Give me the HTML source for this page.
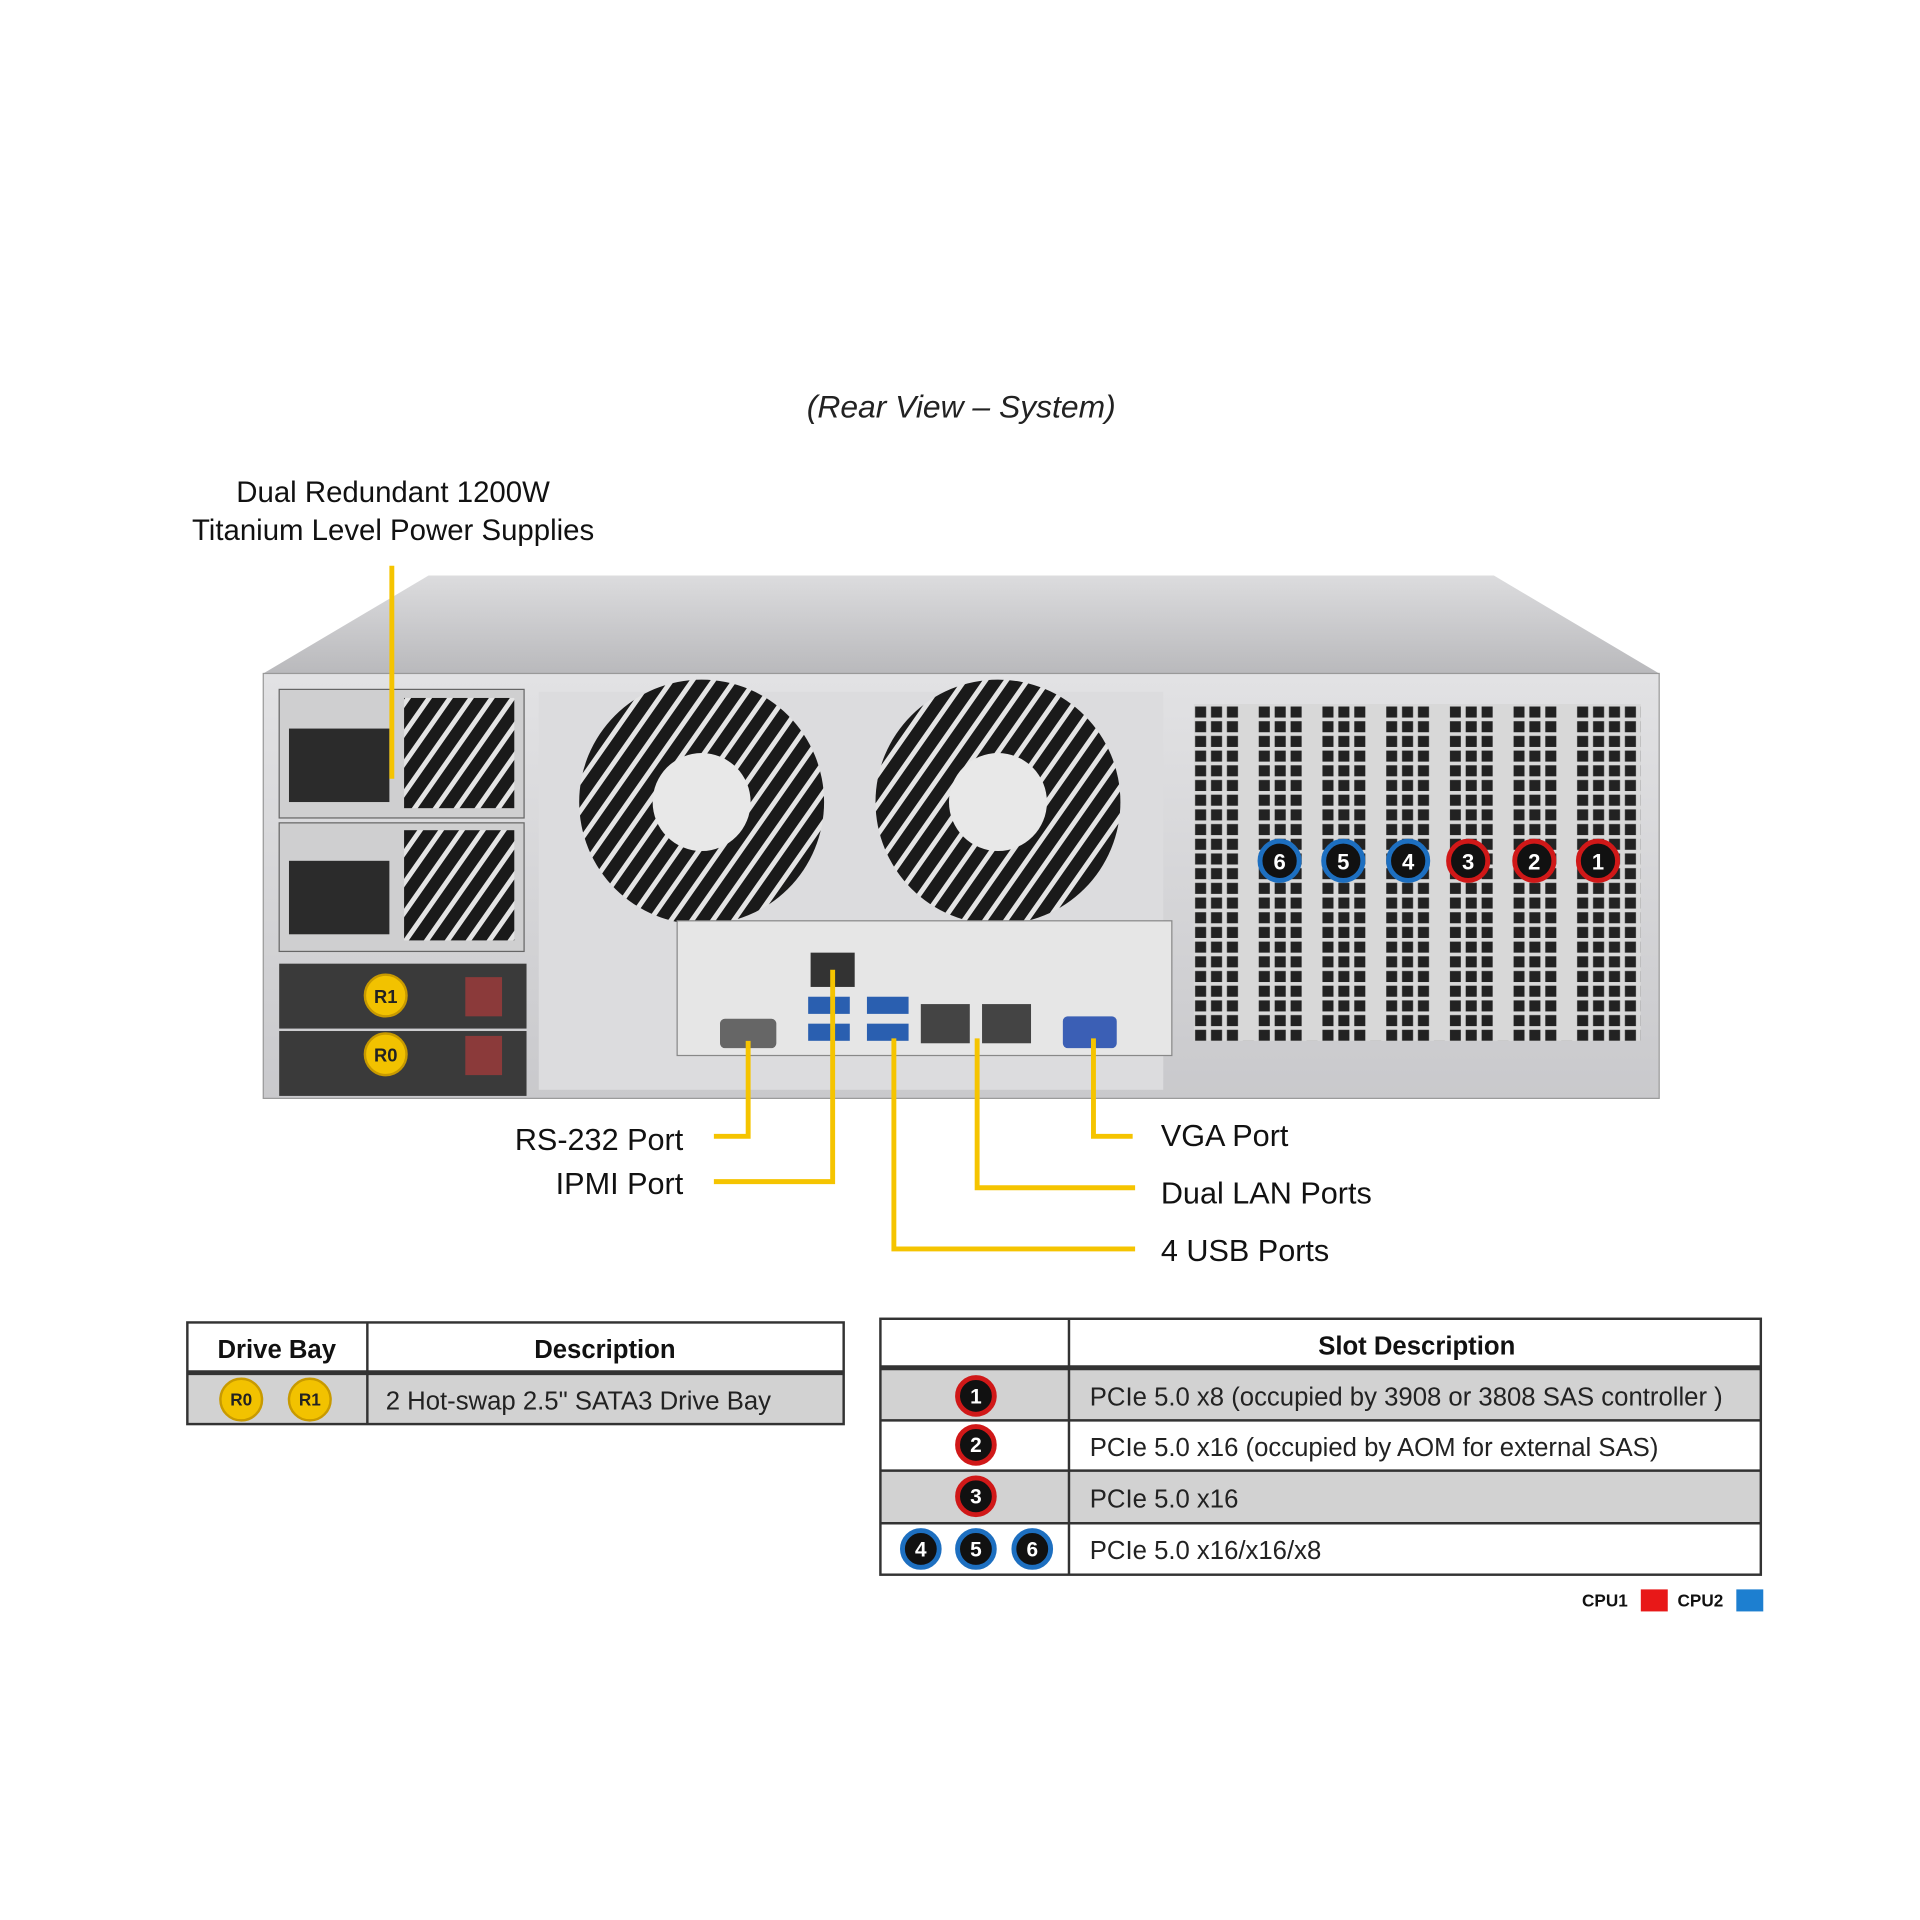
<!DOCTYPE html>
<html><head><meta charset="utf-8"><style>
html,body{margin:0;padding:0;background:#fff;}
svg{display:block;}
text{font-family:"Liberation Sans",Arial,sans-serif;}
</style></head><body>
<svg width="1920" height="1920" viewBox="0 0 1568 1568" xmlns="http://www.w3.org/2000/svg">
<defs>
<linearGradient id="top" x1="0" y1="0" x2="0" y2="1"><stop offset="0" stop-color="#dcdcde"/><stop offset="1" stop-color="#b9b9bc"/></linearGradient>
<linearGradient id="body" x1="0" y1="0" x2="0" y2="1"><stop offset="0" stop-color="#e2e2e4"/><stop offset="1" stop-color="#c9c9cc"/></linearGradient>
<pattern id="grill" width="13" height="12" patternUnits="userSpaceOnUse"><rect width="13" height="12" fill="#d8d8d8"/><rect x="1" y="1" width="9" height="9" fill="#222"/></pattern>
<pattern id="fanp" width="14" height="14" patternUnits="userSpaceOnUse" patternTransform="rotate(35)"><rect width="14" height="14" fill="#e4e4e4"/><rect width="10" height="14" fill="#1a1a1a"/></pattern>
</defs>
<text x="785" y="341" font-size="26" font-style="italic" text-anchor="middle" fill="#222">(Rear View – System)</text>
<text x="321" y="410" font-size="24" text-anchor="middle" fill="#111">Dual Redundant  1200W</text>
<text x="321" y="441" font-size="24" text-anchor="middle" fill="#111">Titanium  Level Power Supplies</text>

<polygon points="350,470 1220,470 1355,550 215,550" fill="url(#top)"/>
<rect x="215" y="550" width="1140" height="347" fill="url(#body)" stroke="#999"/>
<rect x="440" y="565" width="510" height="325" fill="#dcdcde"/>
<rect x="228" y="563" width="200" height="105" fill="#cfcfd0" stroke="#666"/>
<rect x="236" y="595" width="82" height="60" fill="#2b2b2b"/>
<rect x="330" y="570" width="90" height="90" fill="url(#fanp)"/>
<rect x="228" y="672" width="200" height="105" fill="#cfcfd0" stroke="#666"/>
<rect x="236" y="703" width="82" height="60" fill="#2b2b2b"/>
<rect x="330" y="678" width="90" height="90" fill="url(#fanp)"/>
<rect x="228" y="787" width="202" height="53" fill="#3a3a3a"/>
<rect x="228" y="842" width="202" height="53" fill="#3a3a3a"/>
<rect x="380" y="798" width="30" height="32" fill="#8b3a3a"/>
<rect x="380" y="846" width="30" height="32" fill="#8b3a3a"/>
<circle cx="573" cy="655" r="100" fill="url(#fanp)"/>
<circle cx="573" cy="655" r="40" fill="#e8e8e8"/>
<circle cx="815" cy="655" r="100" fill="url(#fanp)"/>
<circle cx="815" cy="655" r="40" fill="#e8e8e8"/>
<rect x="553" y="752" width="404" height="110" fill="#e6e6e6" stroke="#888"/>
<rect x="588" y="832" width="46" height="24" fill="#666" rx="4"/>
<rect x="662" y="778" width="36" height="28" fill="#333"/>
<rect x="660" y="814" width="34" height="14" fill="#2a5fb0"/><rect x="660" y="836" width="34" height="14" fill="#2a5fb0"/>
<rect x="708" y="814" width="34" height="14" fill="#2a5fb0"/><rect x="708" y="836" width="34" height="14" fill="#2a5fb0"/>
<rect x="752" y="820" width="40" height="32" fill="#444"/><rect x="802" y="820" width="40" height="32" fill="#444"/>
<rect x="868" y="830" width="44" height="26" fill="#3b5fb5" rx="4"/>
<rect x="975" y="575" width="365" height="275" fill="url(#grill)"/>
<g fill="#d8d8d8"><rect x="1012" y="575" width="14" height="275"/><rect x="1065" y="575" width="14" height="275"/><rect x="1118" y="575" width="14" height="275"/><rect x="1170" y="575" width="14" height="275"/><rect x="1222" y="575" width="14" height="275"/><rect x="1273" y="575" width="14" height="275"/></g>
<g font-size="18" font-weight="bold" text-anchor="middle" fill="#fff">
<circle cx="1045" cy="703" r="16" fill="#111" stroke="#1d6fc0" stroke-width="4"/><text x="1045" y="710">6</text>
<circle cx="1097" cy="703" r="16" fill="#111" stroke="#1d6fc0" stroke-width="4"/><text x="1097" y="710">5</text>
<circle cx="1150" cy="703" r="16" fill="#111" stroke="#1d6fc0" stroke-width="4"/><text x="1150" y="710">4</text>
<circle cx="1199" cy="703" r="16" fill="#111" stroke="#d01818" stroke-width="4"/><text x="1199" y="710">3</text>
<circle cx="1253" cy="703" r="16" fill="#111" stroke="#d01818" stroke-width="4"/><text x="1253" y="710">2</text>
<circle cx="1305" cy="703" r="16" fill="#111" stroke="#d01818" stroke-width="4"/><text x="1305" y="710">1</text>
</g>
<g font-size="15" font-weight="bold" text-anchor="middle" fill="#222">
<circle cx="315" cy="813" r="17" fill="#f2c200" stroke="#c89a00" stroke-width="2"/><text x="315" y="819">R1</text>
<circle cx="315" cy="861" r="17" fill="#f2c200" stroke="#c89a00" stroke-width="2"/><text x="315" y="867">R0</text>
</g>
<g stroke="#f5c400" stroke-width="4" fill="none">
<polyline points="320,462 320,636"/>
<polyline points="611,850 611,928 583,928"/>
<polyline points="680,792 680,965 583,965"/>
<polyline points="730,848 730,1020 927,1020"/>
<polyline points="798,848 798,970 927,970"/>
<polyline points="893,848 893,928 925,928"/>
</g>
<g font-size="25" fill="#111">
<text x="558" y="939" text-anchor="end">RS-232 Port</text>
<text x="558" y="975" text-anchor="end">IPMI  Port</text>
<text x="948" y="936">VGA Port</text>
<text x="948" y="983">Dual LAN Ports</text>
<text x="948" y="1030">4 USB Ports</text>
</g>
<rect x="153" y="1122" width="536" height="41" fill="#d2d2d2"/>
<g stroke="#333" fill="none" stroke-width="2">
<rect x="153" y="1080" width="536" height="83"/>
<line x1="153" y1="1121" x2="689" y2="1121" stroke-width="4"/>
<line x1="300" y1="1080" x2="300" y2="1163"/>
</g>
<text x="226" y="1109" font-size="21" font-weight="bold" text-anchor="middle" fill="#111">Drive Bay</text>
<text x="494" y="1109" font-size="21" font-weight="bold" text-anchor="middle" fill="#111">Description</text>
<g font-size="14" font-weight="bold" text-anchor="middle" fill="#222">
<circle cx="197" cy="1143" r="17" fill="#f2c200" stroke="#c89a00" stroke-width="2"/><text x="197" y="1148">R0</text>
<circle cx="253" cy="1143" r="17" fill="#f2c200" stroke="#c89a00" stroke-width="2"/><text x="253" y="1148">R1</text>
</g>
<text x="315" y="1151" font-size="21" fill="#222">2 Hot-swap  2.5" SATA3 Drive  Bay</text>
<rect x="719" y="1118" width="719" height="42" fill="#d2d2d2"/>
<rect x="719" y="1201" width="719" height="43" fill="#d2d2d2"/>
<g stroke="#333" fill="none" stroke-width="2">
<rect x="719" y="1077" width="719" height="209"/>
<line x1="719" y1="1117" x2="1438" y2="1117" stroke-width="4"/>
<line x1="719" y1="1160" x2="1438" y2="1160"/>
<line x1="719" y1="1201" x2="1438" y2="1201"/>
<line x1="719" y1="1244" x2="1438" y2="1244"/>
<line x1="873" y1="1077" x2="873" y2="1286"/>
</g>
<text x="1157" y="1106" font-size="21" font-weight="bold" text-anchor="middle" fill="#111">Slot Description</text>
<g font-size="21" fill="#222">
<text x="890" y="1148">PCIe 5.0 x8 (occupied by 3908 or 3808 SAS controller  )</text>
<text x="890" y="1189">PCIe 5.0 x16 (occupied by AOM for external SAS)</text>
<text x="890" y="1231">PCIe 5.0 x16</text>
<text x="890" y="1273">PCIe 5.0 x16/x16/x8</text>
</g>
<g font-size="17" font-weight="bold" text-anchor="middle" fill="#fff">
<circle cx="797" cy="1140" r="15" fill="#111" stroke="#d01818" stroke-width="4"/><text x="797" y="1146">1</text>
<circle cx="797" cy="1180" r="15" fill="#111" stroke="#d01818" stroke-width="4"/><text x="797" y="1186">2</text>
<circle cx="797" cy="1222" r="15" fill="#111" stroke="#d01818" stroke-width="4"/><text x="797" y="1228">3</text>
<circle cx="752" cy="1265" r="15" fill="#111" stroke="#1d6fc0" stroke-width="4"/><text x="752" y="1271">4</text>
<circle cx="797" cy="1265" r="15" fill="#111" stroke="#1d6fc0" stroke-width="4"/><text x="797" y="1271">5</text>
<circle cx="843" cy="1265" r="15" fill="#111" stroke="#1d6fc0" stroke-width="4"/><text x="843" y="1271">6</text>
</g>
<g font-size="14" font-weight="bold" fill="#111">
<text x="1292" y="1312">CPU1</text>
<rect x="1340" y="1298" width="22" height="18" fill="#e81818"/>
<text x="1370" y="1312">CPU2</text>
<rect x="1418" y="1298" width="22" height="18" fill="#1d7fd0"/>
</g>
</svg>
</body></html>
